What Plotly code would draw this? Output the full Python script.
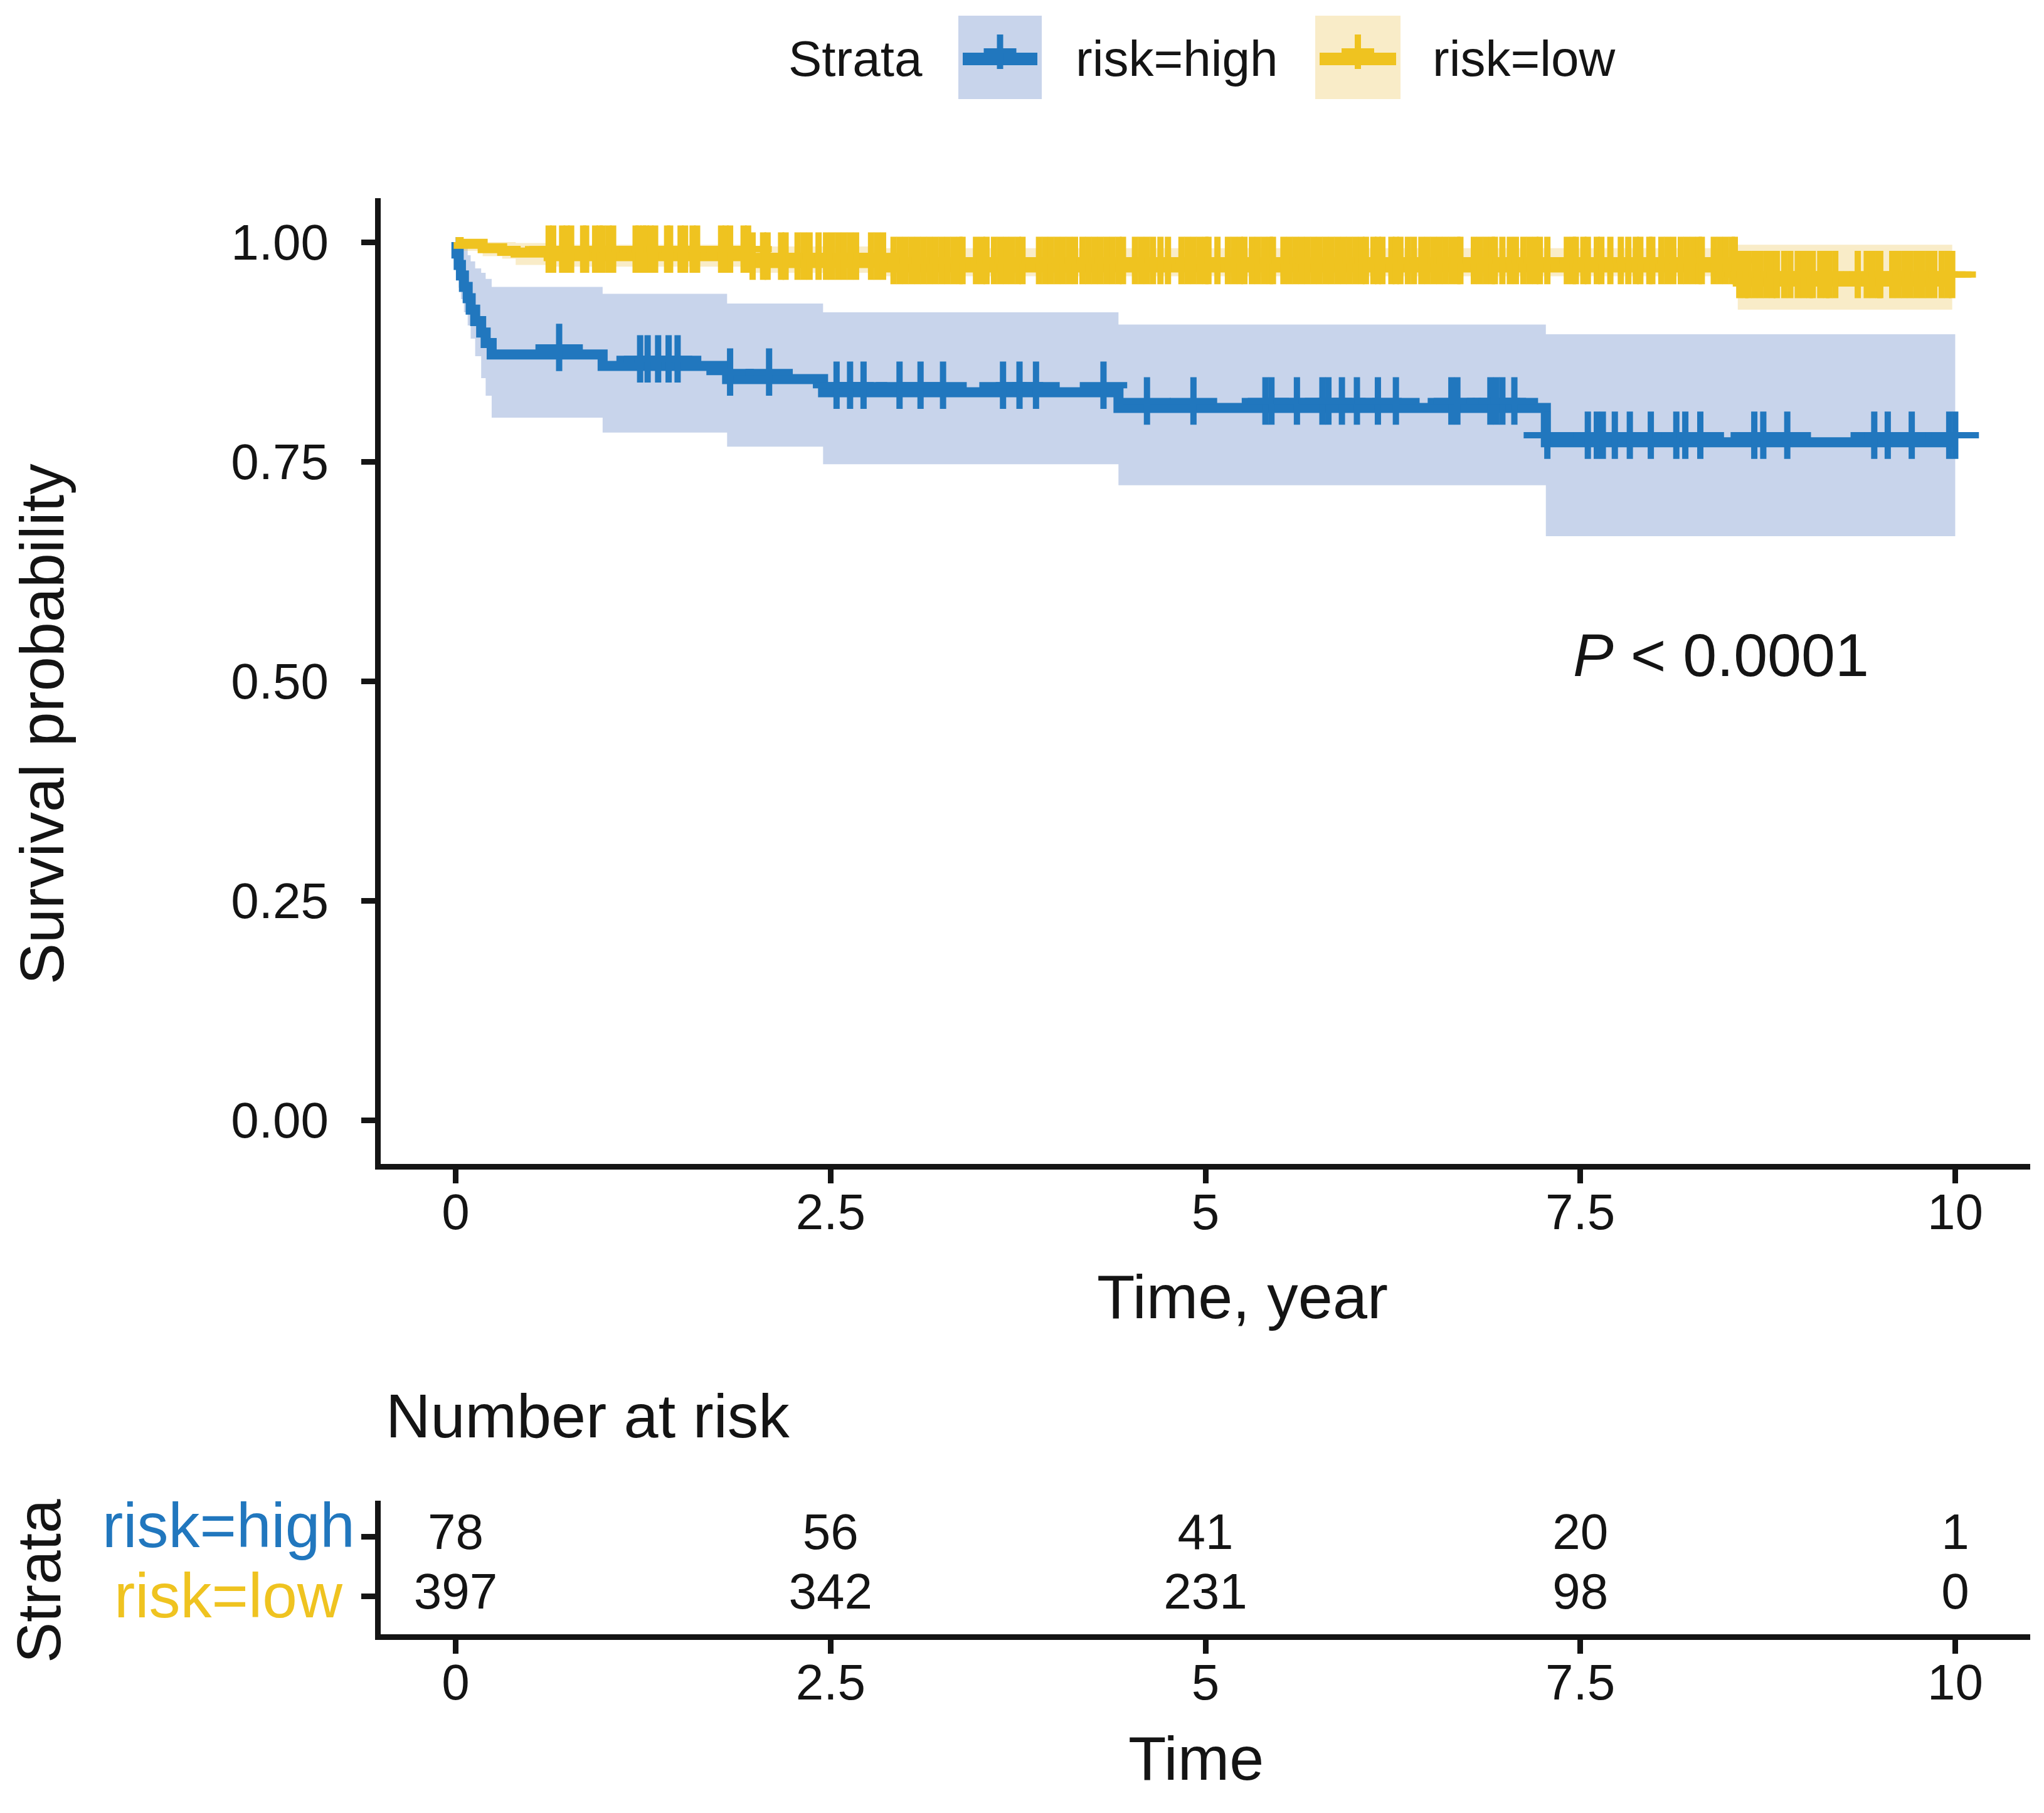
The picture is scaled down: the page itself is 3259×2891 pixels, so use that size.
import plotly.graph_objects as go
import numpy as np

W, H = 3259, 2891
PAGE_PAD = 8  # default body margin of the html page
FW, FH = W - 2 * PAGE_PAD, H - 2 * PAGE_PAD
FONT = "Liberation Sans, Arial, sans-serif"
INK = "#141414"

# ---- Kaplan-Meier estimate, risk=high ----
high_t = [0, 0.005, 0.02, 0.035, 0.055, 0.08, 0.10, 0.13, 0.17, 0.20, 0.24,
          0.98, 1.81, 2.45, 4.42, 7.27]
high_s = [1, 0.987, 0.974, 0.962, 0.949, 0.936, 0.923, 0.910, 0.897, 0.885, 0.872,
          0.859, 0.844, 0.829, 0.811, 0.772]
high_upper = [1, 1, 1, 0.998, 0.993, 0.985, 0.978, 0.970, 0.965, 0.958, 0.949,
              0.941, 0.930, 0.920, 0.906, 0.895]
high_lower = [1, 0.962, 0.948, 0.935, 0.920, 0.905, 0.890, 0.870, 0.845, 0.825, 0.800,
              0.783, 0.767, 0.747, 0.723, 0.665]
high_censor = [0.69, 1.23, 1.28, 1.35, 1.42, 1.48, 1.83, 2.09, 2.54, 2.63, 2.72,
               2.96, 3.10, 3.25, 3.65, 3.76, 3.87, 4.32, 4.61, 4.92, 5.40, 5.44,
               5.61, 5.78, 5.82, 5.91, 6.01, 6.15, 6.27, 6.64, 6.68, 6.90, 6.94,
               6.98, 7.06, 7.28, 7.55, 7.61, 7.65, 7.73, 7.83, 7.97, 8.14, 8.20,
               8.30, 8.66, 8.72, 8.88, 9.46, 9.55, 9.71, 9.96, 10.0]

# ---- Kaplan-Meier estimate, risk=low ----
low_t = [0, 0.02, 0.18, 0.31, 0.40, 0.62, 1.96, 2.87, 8.55]
low_s = [1, 0.998, 0.993, 0.990, 0.988, 0.984, 0.976, 0.971, 0.955]
low_upper = [1, 1, 1, 1, 0.999, 0.997, 0.995, 0.993, 0.997]
low_lower = [1, 0.990, 0.984, 0.981, 0.974, 0.972, 0.965, 0.961, 0.923]
low_censor = [
    0.62, 0.65, 0.71, 0.74, 0.77, 0.85, 0.87, 0.93, 0.96, 0.98, 1.02, 1.05,
    1.20, 1.22, 1.25, 1.27, 1.30, 1.33, 1.41, 1.43, 1.50, 1.53, 1.58, 1.61,
    1.77, 1.80, 1.83, 1.92, 1.95, 1.98, 2.05, 2.08, 2.17, 2.20, 2.28, 2.32,
    2.36, 2.42, 2.47, 2.51, 2.55, 2.59, 2.63, 2.67, 2.77, 2.81, 2.85,
    2.92, 2.96, 3.00, 3.04, 3.08, 3.12, 3.16, 3.20, 3.24, 3.28, 3.32, 3.36, 3.38,
    3.47, 3.51, 3.54, 3.59, 3.63, 3.67, 3.71, 3.75, 3.78,
    3.89, 3.93, 3.97, 4.01, 4.05, 4.09, 4.13, 4.18, 4.22, 4.26, 4.30, 4.34,
    4.38, 4.42, 4.45, 4.53, 4.57, 4.61, 4.65, 4.70, 4.75, 4.84, 4.88, 4.92,
    4.96, 5.00, 5.02, 5.08, 5.15, 5.19, 5.23, 5.26, 5.31, 5.35, 5.39, 5.43, 5.45,
    5.52, 5.56, 5.60, 5.64, 5.68, 5.72, 5.76, 5.80, 5.84, 5.88, 5.92, 5.96,
    6.00, 6.04, 6.07, 6.12, 6.15, 6.18, 6.24, 6.27, 6.30, 6.35, 6.39,
    6.44, 6.48, 6.52, 6.56, 6.60, 6.64, 6.68, 6.70, 6.79, 6.83, 6.87, 6.91, 6.93,
    6.98, 7.03, 7.07, 7.12, 7.16, 7.20, 7.23, 7.28, 7.41, 7.45, 7.47, 7.52, 7.55,
    7.61, 7.64, 7.70, 7.77, 7.82, 7.87, 7.90, 7.96, 7.98, 8.04, 8.08, 8.12,
    8.17, 8.21, 8.25, 8.29, 8.31, 8.39, 8.43, 8.47, 8.51, 8.53,
    8.56, 8.60, 8.62, 8.66, 8.70, 8.74, 8.78, 8.81, 8.86, 8.90,
    8.95, 8.99, 9.03, 9.05, 9.10, 9.14, 9.16, 9.20, 9.35, 9.41, 9.45, 9.49, 9.50,
    9.58, 9.62, 9.66, 9.70, 9.74, 9.78, 9.82, 9.86, 9.91, 9.95, 9.98,
]

# ---- number at risk table ----
risk_times = [0, 2.5, 5, 7.5, 10]
risk_labels = ["0", "2.5", "5", "7.5", "10"]
risk_high = [78, 56, 41, 20, 1]
risk_low = [397, 342, 231, 98, 0]

strata = ["risk=high", "risk=low"]
line_cols = ["#2177BE", "#EFC320"]
ci_cols = ["rgba(72,112,188,0.3)", "rgba(235,192,72,0.3)"]
CENSOR_LIFT = 0.008  # censor crosses sit a little above the step line


# pixel position in the screenshot -> paper fraction of the figure
def px_x(px):
    return (px - PAGE_PAD) / FW


def px_y(py):
    return 1 - (py - PAGE_PAD) / FH


def step_xy(t, v, t_end):
    return list(t) + [t_end], list(v) + [v[-1]]


groups = [
    (high_t, high_s, high_upper, high_lower, high_censor),
    (low_t, low_s, low_upper, low_lower, low_censor),
]

fig = go.Figure()

# confidence ribbons
for (t, s, up, lo, cens), ci in zip(groups, ci_cols):
    t_end = max(cens)
    x, yu = step_xy(t, up, t_end)
    _, yl = step_xy(t, lo, t_end)
    fig.add_trace(go.Scatter(x=x, y=yu, mode="lines", line=dict(width=0, shape="hv"),
                             showlegend=False, hoverinfo="skip"))
    fig.add_trace(go.Scatter(x=x, y=yl, mode="lines", line=dict(width=0, shape="hv"),
                             fill="tonexty", fillcolor=ci, showlegend=False, hoverinfo="skip"))

# survival curves and censor marks
for (t, s, up, lo, cens), col, name in zip(groups, line_cols, strata):
    t_end = max(cens)
    x, ys = step_xy(t, s, t_end)
    fig.add_trace(go.Scatter(x=x, y=ys, mode="lines", name=name,
                             line=dict(color=col, width=16, shape="hv"), showlegend=False))
    idx = np.searchsorted(t, cens, side="right") - 1
    cy = np.array(s)[idx] + CENSOR_LIFT
    fig.add_trace(go.Scatter(x=cens, y=cy, mode="markers", showlegend=False,
                             marker=dict(symbol="cross-thin", size=54,
                                         line=dict(color=col, width=10))))

# risk table numbers
for row, vals in zip([2, 1], [risk_high, risk_low]):
    fig.add_trace(go.Scatter(x=risk_times, y=[row] * len(vals), mode="text",
                             text=[str(v) for v in vals], xaxis="x2", yaxis="y2",
                             textfont=dict(family=FONT, size=80, color=INK),
                             showlegend=False, hoverinfo="skip"))

axis_style = dict(showline=True, linewidth=9, linecolor=INK, ticks="outside",
                  ticklen=22, tickwidth=9, tickcolor=INK, showgrid=False,
                  zeroline=False, tickfont=dict(family=FONT, size=80, color=INK))

x_dom = [px_x(607), px_x(3237)]
fig.update_layout(
    width=FW, height=FH, margin=dict(l=0, r=0, t=0, b=0), autosize=False,
    paper_bgcolor="white", plot_bgcolor="white", showlegend=False,
    xaxis=dict(domain=x_dom, range=[-0.5, 10.5], tickvals=risk_times,
               ticktext=risk_labels, anchor="y", ticklabelstandoff=-23, **axis_style),
    yaxis=dict(domain=[px_y(1856), px_y(316)], range=[-0.05, 1.05],
               tickvals=[0, 0.25, 0.5, 0.75, 1], tickformat=".2f", anchor="x",
               ticklabelstandoff=36, **axis_style),
    xaxis2=dict(domain=x_dom, range=[-0.5, 10.5], tickvals=risk_times,
                ticktext=risk_labels, anchor="y2", ticklabelstandoff=-23, **axis_style),
    yaxis2=dict(domain=[px_y(2606), px_y(2393)], range=[0.36, 2.6], tickvals=[1, 2],
                showticklabels=False, anchor="x2", **axis_style),
)


def note(text, x, y, size, color=INK, angle=0, xanchor="center", xref="paper", yref="paper"):
    fig.add_annotation(text=text, x=x, y=y, xref=xref, yref=yref, showarrow=False,
                       textangle=angle, xanchor=xanchor, yanchor="middle",
                       font=dict(family=FONT, size=size, color=color))


note("Survival probability", px_x(66), px_y(1155), 99, angle=-90)
note("Time, year", px_x(1981), px_y(2067), 99)
note("<i>P</i> &lt; 0.0001", 8.44, 0.53, 97, xref="x", yref="y")
note("Number at risk", px_x(613), px_y(2257), 99, xanchor="left")
note("Strata", px_x(62), px_y(2521), 98, angle=-90)
note("Time", px_x(1907), px_y(2803), 99)
note(strata[0], px_x(364), px_y(2432), 100, color=line_cols[0])
note(strata[1], px_x(364), px_y(2544), 100, color=line_cols[1])

# legend drawn at the top
note("Strata", px_x(1255), px_y(93), 80, xanchor="left")
legend_boxes = [(1528, 1661, 1713), (2097, 2233, 2282)]
for (bl, br, tx), col, ci, name in zip(legend_boxes, line_cols, ci_cols, strata):
    cx = (bl + br) / 2
    fig.add_shape(type="rect", xref="paper", yref="paper", x0=px_x(bl), x1=px_x(br),
                  y0=px_y(158), y1=px_y(25), fillcolor=ci, line=dict(width=0))
    fig.add_shape(type="line", xref="paper", yref="paper", x0=px_x(bl + 7), x1=px_x(br - 7),
                  y0=px_y(94), y1=px_y(94), line=dict(color=col, width=20))
    fig.add_shape(type="line", xref="paper", yref="paper", x0=px_x(cx), x1=px_x(cx),
                  y0=px_y(110), y1=px_y(55), line=dict(color=col, width=10))
    fig.add_shape(type="line", xref="paper", yref="paper", x0=px_x(cx - 26), x1=px_x(cx + 26),
                  y0=px_y(81), y1=px_y(81), line=dict(color=col, width=8))
    note(name, px_x(tx), px_y(93), 80, xanchor="left")

fig.write_html("out.html")
